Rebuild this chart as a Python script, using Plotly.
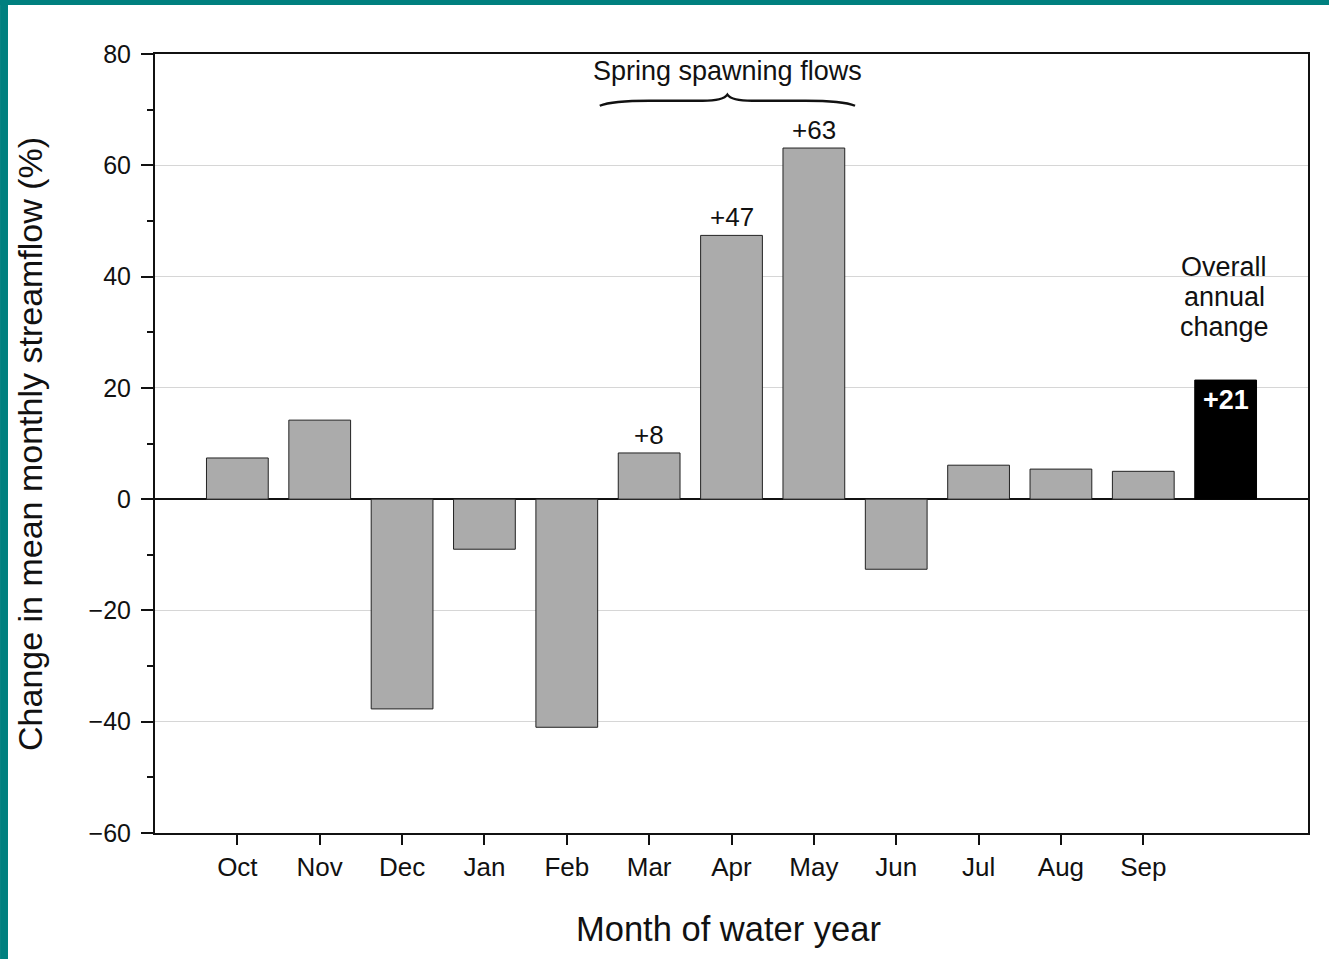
import plotly.graph_objects as go

months = ["Oct", "Nov", "Dec", "Jan", "Feb", "Mar", "Apr", "May", "Jun", "Jul", "Aug", "Sep"]
month_change = [7.4, 14.2, -37.7, -9.0, -41.0, 8.3, 47.4, 63.1, -12.6, 6.1, 5.4, 5.0]
annual_change = 21.4
labelled = {"Mar": "+8", "Apr": "+47", "May": "+63"}
annual_label = "+21"
annual_note = ["Overall", "annual", "change"]
y_ticks = [-60, -40, -20, 0, 20, 40, 60, 80]

FONT = "Liberation Sans, Arial, Helvetica, sans-serif"
TXT = "#111111"
xs = list(range(len(months)))
x_annual = len(months)

fig = go.Figure()
fig.add_trace(go.Bar(
    x=xs, y=month_change, width=0.75,
    marker=dict(color="#ababab", line=dict(color="#222222", width=1)),
    showlegend=False, hoverinfo="skip"))
fig.add_trace(go.Bar(
    x=[x_annual], y=[annual_change], width=0.75,
    marker=dict(color="#000000", line=dict(color="#000000", width=1)),
    showlegend=False, hoverinfo="skip"))

annotations = []
for i, m in enumerate(months):
    if m in labelled:
        annotations.append(dict(x=i, y=month_change[i], text=labelled[m], showarrow=False,
                                yanchor="bottom", yshift=1, font=dict(size=26, color=TXT, family=FONT)))
annotations.append(dict(x=x_annual, y=annual_change, text="<b>" + annual_label + "</b>", showarrow=False,
                        yanchor="top", yshift=-3, font=dict(size=27, color="white", family=FONT)))
for line, yv in zip(annual_note, [41.7, 36.3, 30.9]):
    annotations.append(dict(x=x_annual - 0.02, y=yv, text=line, showarrow=False, yanchor="middle",
                            font=dict(size=27, color=TXT, family=FONT)))

# brace annotation over spring months (Mar–May)
i0, i1 = months.index("Mar"), months.index("May")
xl, xr = i0 - 0.6, i1 + 0.5
xc = (xl + xr) / 2
annotations.append(dict(x=xc, y=76.9, text="Spring spawning flows", showarrow=False,
                        font=dict(size=27, color=TXT, family=FONT)))
ye, ym, yt = 70.7, 71.6, 72.7
brace = (f"M {xl},{ye} Q {xl+0.15},{ym} {xl+0.6},{ym} L {xc-0.3},{ym} "
         f"Q {xc-0.05},{ym} {xc},{yt} Q {xc+0.05},{ym} {xc+0.3},{ym} "
         f"L {xr-0.6},{ym} Q {xr-0.15},{ym} {xr},{ye}")

annotations.append(dict(xref="paper", yref="paper", x=-0.1084, y=0.4994,
                        xanchor="center", yanchor="middle",
                        text="Change in mean monthly streamflow (%)", textangle=-90,
                        showarrow=False, font=dict(size=34, color=TXT, family=FONT)))
annotations.append(dict(xref="paper", yref="paper", x=0.497, y=-0.1232,
                        xanchor="center", yanchor="middle",
                        text="Month of water year", showarrow=False,
                        font=dict(size=34.5, color=TXT, family=FONT)))

TEAL = "#00807f"
shapes = [
    dict(type="path", xref="x", yref="y", path=brace, line=dict(color=TXT, width=2.4)),
    dict(type="rect", xref="paper", yref="paper", x0=-0.1344, x1=-0.1275, y0=-0.2, y1=1.08,
         fillcolor=TEAL, line=dict(width=0), layer="above"),
    dict(type="rect", xref="paper", yref="paper", x0=-0.14, x1=1.05, y0=1.0629, y1=1.08,
         fillcolor=TEAL, line=dict(width=0), layer="above"),
]

tick_text = [("\u2212" + str(abs(v))) if v < 0 else str(v) for v in y_ticks]

fig.update_layout(
    width=1329, height=959,
    margin=dict(l=155, r=21, t=54, b=126),
    paper_bgcolor="white", plot_bgcolor="white",
    annotations=annotations, shapes=shapes,
    font=dict(family=FONT, size=24, color=TXT),
    xaxis=dict(range=[-1, len(months) + 1], tickvals=xs, ticktext=months,
               ticks="outside", ticklen=10, tickwidth=2, tickcolor=TXT,
               showline=True, linecolor=TXT, linewidth=2, mirror=True,
               showgrid=False, zeroline=False, tickfont=dict(size=26, family=FONT, color=TXT)),
    yaxis=dict(range=[-60, 80], tickvals=y_ticks, ticktext=tick_text,
               ticks="outside", ticklen=12, tickwidth=2, tickcolor=TXT,
               ticklabelstandoff=5,
               showline=True, linecolor=TXT, linewidth=2, mirror=True,
               showgrid=True, gridcolor="#d6d6d6", gridwidth=1,
               zeroline=True, zerolinecolor=TXT, zerolinewidth=2,
               minor=dict(dtick=10, ticks="outside", ticklen=6, tickwidth=1.5,
                          tickcolor=TXT, showgrid=False),
               tickfont=dict(size=25, family=FONT, color=TXT)),
)

fig.write_html("out.html", config={"displayModeBar": False},
               post_script="document.body.style.margin='0px';")
